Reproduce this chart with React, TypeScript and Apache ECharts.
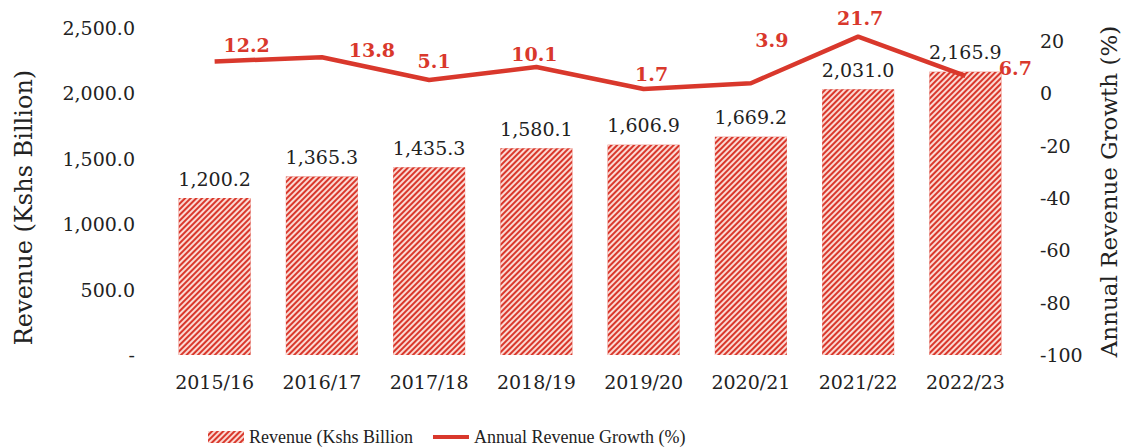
import React, { useEffect, useRef } from "react";
import * as echarts from "echarts";

const categories = ["2015/16", "2016/17", "2017/18", "2018/19", "2019/20", "2020/21", "2021/22", "2022/23"];
const revenue = [1200.2, 1365.3, 1435.3, 1580.1, 1606.9, 1669.2, 2031.0, 2165.9];
const growth = [12.2, 13.8, 5.1, 10.1, 1.7, 3.9, 21.7, 6.7];
const revenueName = "Revenue (Kshs Billion";
const growthName = "Annual Revenue Growth (%)";
const leftAxisName = "Revenue (Kshs Billion)";
const rightAxisName = "Annual Revenue Growth (%)";

// label offsets (style only)
const growthLabelOffsets = [
  [32, -7], [50, 2], [5, -10], [-2, -3], [8, -5], [21, -34], [2, -9], [50, 2],
];

const RED = "#d9382c";
const FONT = "DejaVu Serif";

function fmtRevenue(v: number) {
  if (v === 0) return "-";
  const s = v.toFixed(1);
  const [i, d] = s.split(".");
  return i.replace(/\B(?=(\d{3})+(?!\d))/g, ",") + "." + d;
}

export default function App() {
  const ref = useRef<HTMLDivElement>(null);
  useEffect(() => {
    if (!ref.current) return;
    const chart = echarts.init(ref.current, undefined, { renderer: "svg" });
    chart.setOption({
      animation: false,
      backgroundColor: "#ffffff",
      textStyle: { fontFamily: FONT },
      grid: { left: 161, right: 103, top: 28, bottom: 93, outerBoundsMode: "none" },
      legend: {
        left: 203,
        top: 423,
        itemGap: 20,
        itemWidth: 36,
        itemHeight: 12,
        textStyle: { fontFamily: "Liberation Serif", fontSize: 18, color: "#222" },
        data: [
          { name: revenueName, icon: "rect" },
          { name: growthName, icon: "path://M0,0 L40,0 L40,4.5 L0,4.5 Z" },
        ],
      },
      xAxis: {
        type: "category",
        data: categories,
        axisLine: { show: false },
        axisTick: { show: false },
        axisLabel: { fontFamily: FONT, fontSize: 19, color: "#222", margin: 17 },
      },
      yAxis: [
        {
          type: "value",
          min: 0,
          max: 2500,
          interval: 500,
          name: leftAxisName,
          nameLocation: "middle",
          nameRotate: 90,
          nameGap: 125,
          nameTextStyle: { fontFamily: FONT, fontSize: 24, color: "#222", padding: [0, 32, 0, 0] },
          splitLine: { show: false },
          axisLine: { show: false },
          axisTick: { show: false },
          axisLabel: { fontFamily: FONT, fontSize: 19, color: "#222", margin: 26, formatter: (v: number) => fmtRevenue(v) },
        },
        {
          type: "value",
          min: -100,
          max: 25,
          interval: 20,
          name: rightAxisName,
          nameLocation: "middle",
          nameRotate: 90,
          nameGap: 78,
          nameTextStyle: { fontFamily: FONT, fontSize: 23, color: "#222" },
          splitLine: { show: false },
          axisLine: { show: false },
          axisTick: { show: false },
          axisLabel: {
            fontFamily: FONT, fontSize: 19, color: "#222", margin: 21, showMaxLabel: false,
            formatter: (v: number) => (v > 20 ? "" : String(v)),
          },
        },
      ],
      series: [
        {
          name: revenueName,
          type: "bar",
          data: revenue,
          barWidth: 72,
          itemStyle: {
            color: RED,
            decal: {
              symbol: "rect",
              symbolSize: 1,
              color: "rgba(255,235,230,0.9)",
              dashArrayX: [1, 0],
              dashArrayY: [1.4, 1.4],
              rotation: -Math.PI / 4,
            },
          },
          label: {
            show: true,
            position: "top",
            distance: 10,
            fontFamily: FONT,
            fontSize: 19,
            color: "#222",
            formatter: (p: any) => fmtRevenue(p.value),
          },
        },
        {
          name: growthName,
          type: "line",
          yAxisIndex: 1,
          symbol: "circle",
          symbolSize: 0.1,
          showSymbol: true,
          lineStyle: { color: RED, width: 4.5 },
          itemStyle: { color: RED },
          data: growth.map((v, i) => ({
            value: v,
            label: { offset: growthLabelOffsets[i] },
          })),
          label: {
            show: true,
            position: "top",
            distance: 0,
            fontFamily: FONT,
            fontWeight: "bold",
            fontSize: 19,
            color: RED,
            formatter: (p: any) => p.value.toFixed(1),
          },
        },
      ],
    });
    return () => chart.dispose();
  }, []);
  return <div ref={ref} style={{ position: "fixed", left: 0, top: 0, width: 1122, height: 448 }} />;
}
